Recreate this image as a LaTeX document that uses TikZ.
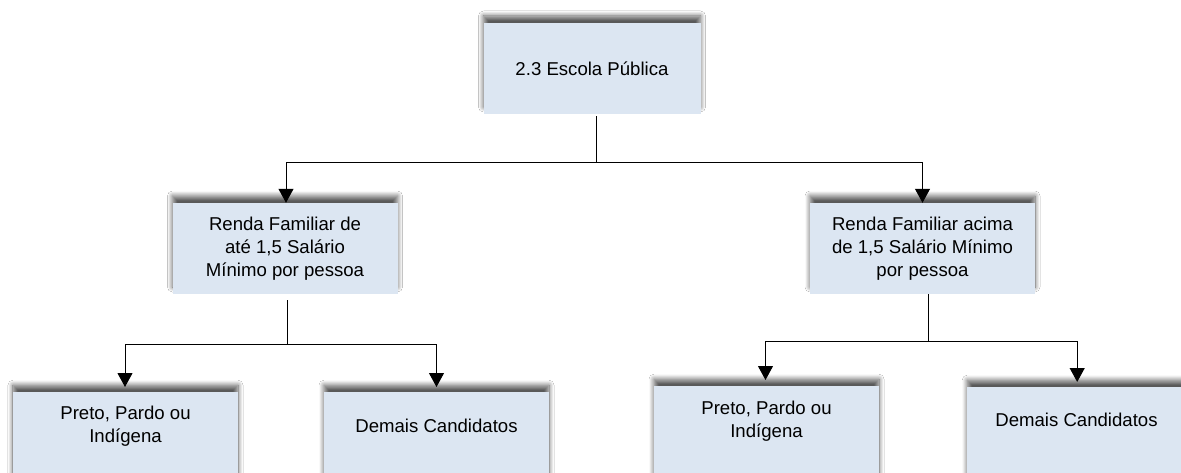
\documentclass[tikz,border=0pt]{standalone}
\usepackage{fontspec}
\setmainfont{Liberation Sans}
\usetikzlibrary{arrows.meta,shadows.blur}
\definecolor{boxfill}{RGB}{220,230,242}
\begin{document}
\begin{tikzpicture}[x=1pt,y=-1pt,
  box/.style={fill=boxfill, inner sep=0pt,
    blur shadow={shadow xshift=0pt,shadow yshift=7pt,shadow blur radius=5pt,shadow blur steps=10,shadow opacity=65}},
  lbl/.style={font=\fontsize{18.6}{23}\selectfont, align=center, inner sep=0pt},
  conn/.style={draw=black, line width=1pt},
  arr/.style={conn, -{Triangle[width=15pt,length=14pt]}}]
\useasboundingbox (0,0) rectangle (1181,473);
\fill[white] (0,0) rectangle (1181,473);

% boxes
\node[box, lbl, minimum width=217pt, minimum height=91pt] (top) at (592,68.5) {2.3 Escola Pública};
\node[box, lbl, minimum width=225pt, minimum height=91pt] (ml) at (285,248.5) {Renda Familiar de\\até 1,5 Salário\\Mínimo por pessoa};
\node[box, lbl, minimum width=225pt, minimum height=91pt] (mr) at (922.5,248.5) {Renda Familiar acima\\de 1,5 Salário Mínimo\\por pessoa};

\node[box, minimum width=225pt, minimum height=110pt, anchor=north] (b1) at (125.5,392) {};
\node[box, minimum width=225pt, minimum height=110pt, anchor=north] (b2) at (436.5,392) {};
\node[box, minimum width=225pt, minimum height=110pt, anchor=north] (b3) at (766.5,386) {};
\node[box, minimum width=235pt, minimum height=110pt, anchor=north west] (b4) at (967,387) {};

\node[lbl] (b1t) at (125.5,426) {Preto, Pardo ou\\Indígena};
\node[lbl] (b2t) at (436.5,426) {Demais Candidatos};
\node[lbl] (b3t) at (766.5,421) {Preto, Pardo ou\\Indígena};
\node[lbl] (b4t) at (1076.5,420) {Demais Candidatos};

% connectors
\coordinate (j0) at (596,163);
\draw[conn] ([yshift=-2pt]top.south -| j0) -- (j0);
\draw[arr] (j0) -| ([xshift=1pt]ml.north);
\draw[arr] (j0) -| (mr.north);

\coordinate (j1) at (287,344);
\draw[conn] ([yshift=-6pt]ml.south -| j1) -- (j1);
\draw[arr] (j1) -| ([xshift=-0.5pt,yshift=5pt]b1.north);
\draw[arr] (j1) -| ([yshift=5pt]b2.north);

\coordinate (j2) at (928,341);
\draw[conn] (mr.south -| j2) -- (j2);
\draw[arr] (j2) -| ([xshift=-1pt,yshift=6pt]b3.north);
\draw[arr] (j2) -| ([xshift=-7.5pt,yshift=5pt]b4.north);
\end{tikzpicture}
\end{document}
